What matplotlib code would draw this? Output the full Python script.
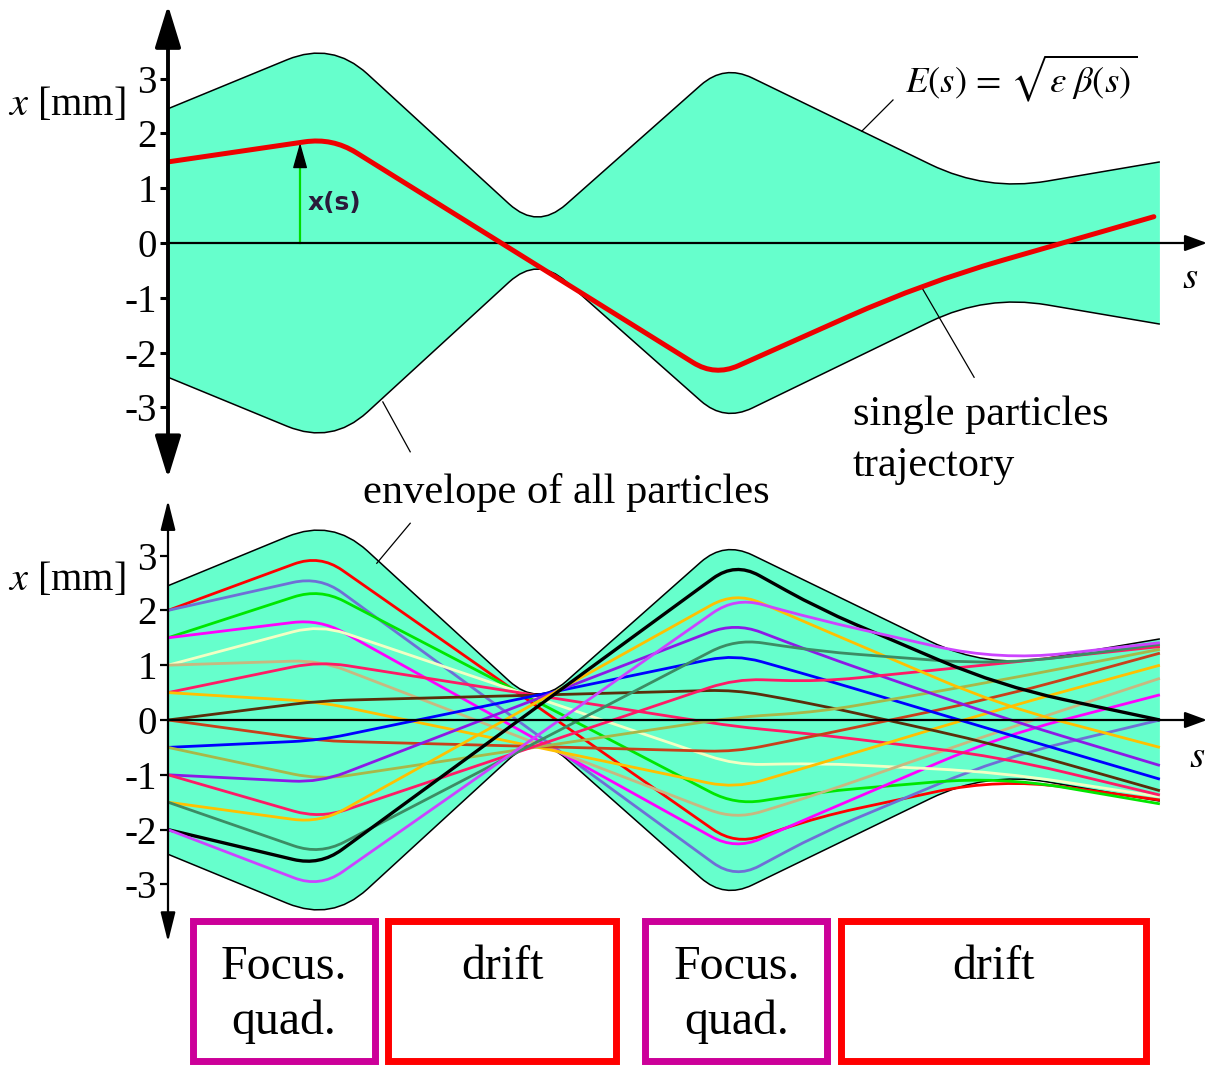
import numpy as np
import matplotlib
matplotlib.use("Agg")
import matplotlib.pyplot as plt
from matplotlib.path import Path
from matplotlib.patches import PathPatch, Rectangle

plt.rcParams['font.family'] = ['Liberation Serif', 'DejaVu Serif']
plt.rcParams['mathtext.fontset'] = 'stix'
plt.rcParams['axes.unicode_minus'] = False

# beam envelope E(s): corner points of the outline (s in arbitrary length units, x in mm)
env_s = [0, 2.99, 6.74, 10.15, 14.93, 18.10]
env_x = [2.45, 3.68, 0.24, 3.26, 0.94, 1.48]

# single particle trajectory (top panel)
traj_s = [0, 3.00, 9.98, 13.79, 17.99]
traj_x = [1.48, 1.92, -2.43, -0.73, 0.48]

# the x(s) arrow
kick_s = 2.41
kick_x = 1.83

# many particles (bottom panel), read at these s positions
part_s = [0, 2.77, 10.35, 11.90, 15.18, 18.10]
p_red = [2.0, 3.02, -2.28, -1.76, -1.06, -1.46]
p_slate = [2.0, 2.62, -2.90, -2.07, -0.70, 0.0]
p_green = [1.5, 2.40, -1.55, -1.31, -1.03, -1.53]
p_magenta = [1.5, 1.84, -2.37, -1.70, -0.30, 0.46]
p_pale = [1.0, 1.74, -0.82, -0.79, -0.95, -1.40]
p_tan = [1.0, 1.09, -1.82, -1.34, -0.20, 0.76]
p_crimson_a = [0.5, 1.07, -0.12, -0.27, -0.67, -1.37]
p_gold_a = [0.5, 0.33, -1.25, -0.79, 0.20, 1.00]
p_brown = [0.0, 0.35, 0.55, 0.27, -0.46, -1.29]
p_sienna = [0.0, -0.38, -0.58, -0.27, 0.42, 1.22]
p_blue = [-0.5, -0.37, 1.20, 0.76, -0.22, -1.08]
p_olive = [-0.5, -1.09, 0.05, 0.15, 0.72, 1.29]
p_purple = [-1.0, -1.14, 1.78, 1.19, 0.05, -0.83]
p_crimson_b = [-1.0, -1.80, 0.75, 0.70, 1.03, 1.34]
p_gold_b = [-1.5, -1.88, 2.34, 1.67, 0.27, -0.50]
p_seagreen = [-1.5, -2.46, 1.48, 1.25, 1.00, 1.38]
p_black = [-2.0, -2.66, 2.88, 2.02, 0.62, 0.0]
p_violet = [-2.0, -3.06, 2.24, 1.82, 1.08, 1.41]

particles = [p_red, p_slate, p_green, p_magenta, p_pale, p_tan, p_crimson_a,
             p_gold_a, p_brown, p_sienna, p_blue, p_olive, p_purple,
             p_crimson_b, p_gold_b, p_seagreen, p_black, p_violet]
part_colors = ['#ff0000', '#6f6fd6', '#00e600', '#ff00ff', '#f2ffc4', '#c8b880',
               '#ff1a66', '#ffc000', '#5a2e0a', '#c8401a', '#0000ff', '#a8b848',
               '#8c1ae6', '#ff1a66', '#ffc000', '#3c8c64', '#000000', '#cc44ff']

# lattice elements under the plot
elem_names = ['Focus.\nquad.', 'drift', 'Focus.\nquad.', 'drift']
elem_start = [0.45, 4.02, 8.71, 12.29]
elem_end = [3.77, 8.18, 12.03, 17.84]
elem_colors = ['#cc0099', '#ff0000', '#cc0099', '#ff0000']

W, H = 1207, 1065
PX = 54.8  # pixels per unit on both axes
X0 = 168


def rounded(s, x, radius):
    # polyline with its corners rounded by quadratic bezier pieces
    pts = np.column_stack([s, x]).astype(float)
    if np.isscalar(radius):
        radius = [radius] * len(pts)
    verts = [pts[0]]
    codes = [Path.MOVETO]
    for i in range(1, len(pts) - 1):
        a, p, b = pts[i - 1], pts[i], pts[i + 1]
        d1 = np.hypot(*(a - p))
        d2 = np.hypot(*(b - p))
        r = min(radius[i], 0.5 * d1, 0.5 * d2)
        verts += [p + r * (a - p) / d1, p, p + r * (b - p) / d2]
        codes += [Path.LINETO, Path.CURVE3, Path.CURVE3]
    verts.append(pts[-1])
    codes.append(Path.LINETO)
    return np.array(verts), codes


def draw_envelope(ax):
    env_r = [0, 0.88, 0.7, 0.57, 1.13, 0]
    uv, uc = rounded(env_s, env_x, env_r)
    lv, lc = rounded(env_s[::-1], [-v for v in env_x[::-1]], env_r[::-1])
    fill_v = np.vstack([uv, lv, uv[:1]])
    fill_c = uc + [Path.LINETO] + lc[1:] + [Path.CLOSEPOLY]
    ax.add_patch(PathPatch(Path(fill_v, fill_c), facecolor='#66ffcc', edgecolor='none', zorder=1))
    lv2, lc2 = rounded(env_s, [-v for v in env_x], env_r)
    for v, c in [(uv, uc), (lv2, lc2)]:
        ax.add_patch(PathPatch(Path(v, c), fill=False, edgecolor='black', lw=1.1, zorder=2))


def setup_axes(ax, y_top, lw_axis):
    ax.set_xlim(0, (W - X0) / PX)
    ax.set_ylim(y_top - ax.get_position().height * H / PX, y_top)
    ax.patch.set_visible(False)
    for sp in ax.spines.values():
        sp.set_visible(False)
    ax.set_xticks([])
    ax.set_yticks(range(-3, 4))
    ax.tick_params(axis='y', direction='out', length=6, width=lw_axis, labelsize=28, pad=2)
    # horizontal s axis
    ax.annotate('', xy=((W - X0) / PX, 0), xytext=(0, 0), annotation_clip=False,
                arrowprops=dict(arrowstyle='-|>,head_length=0.9,head_width=0.33', mutation_scale=15,
                                lw=1.6, color='black', shrinkA=0, shrinkB=0), zorder=6)
    return ax


fig = plt.figure(figsize=(W / 100, H / 100), dpi=100)

# ---------------- top panel ----------------
ax1 = fig.add_axes([X0 / W, 1 - 480 / H, (W - X0) / W, 480 / H])
setup_axes(ax1, 243 / PX, 2.2)
draw_envelope(ax1)
v, c = rounded(traj_s, traj_x, [0, 0.51, 0.47, 1.5, 0])
ax1.add_patch(PathPatch(Path(v, c), fill=False, edgecolor='#ee0000', lw=3.6, capstyle='round', zorder=7))
ax1.plot([kick_s, kick_s], [0, kick_x - 0.3], color='#00dd00', lw=1.6, zorder=5)
ax1.annotate('', xy=(kick_s, kick_x), xytext=(kick_s, kick_x - 0.45),
             arrowprops=dict(arrowstyle='-|>,head_length=1.6,head_width=0.45', mutation_scale=10,
                             lw=1, color='black', shrinkA=0, shrinkB=0), zorder=6)
ax1.text(kick_s + 0.13, 0.73, 'x(s)', fontsize=18, fontweight='bold', family='DejaVu Sans',
         color='#2a1a3a', va='center', ha='left', zorder=8)
ax1.annotate('', xy=(0, 4.34), xytext=(0, -4.29), annotation_clip=False,
             arrowprops=dict(arrowstyle='<|-|>,head_length=1.3,head_width=0.4', mutation_scale=20,
                             lw=2.8, color='black', shrinkA=0, shrinkB=0), zorder=9)
ax1.text(-2.92, 2.52, '$x$ [mm]', fontsize=29, va='center', ha='left')
ax1.text(18.65, -0.64, '$s$', fontsize=28, va='center', ha='center')
ax1.text(13.45, 3.01, r'$E(s)\,=\,\sqrt{\varepsilon\;\beta(s)}$', fontsize=26.5, va='center', ha='left')
ax1.plot([13.23, 12.66], [2.61, 2.04], color='black', lw=0.9, zorder=4)
ax1.text(12.5, -3.14, 'single particles', fontsize=30.5, va='center', ha='left')
ax1.text(12.5, -4.07, 'trajectory', fontsize=30.5, va='center', ha='left')
ax1.plot([14.71, 13.76], [-2.45, -0.82], color='black', lw=0.9, zorder=4)
ax1.plot([4.42, 3.92], [-3.81, -2.9], color='black', lw=0.9, zorder=4, clip_on=False)

# ---------------- bottom panel ----------------
ax2 = fig.add_axes([X0 / W, 0, (W - X0) / W, 585 / H])
setup_axes(ax2, 240 / PX, 1.6)
draw_envelope(ax2)
for vals, col in zip(particles, part_colors):
    lw = 2.4 if col == '#000000' else 2.0
    v, c = rounded(part_s, vals, [0, 0.5, 0.5, 0.7, 1.2, 0])
    ax2.add_patch(PathPatch(Path(v, c), fill=False, edgecolor=col, lw=lw, zorder=3))
ax2.annotate('', xy=(0, 4.01), xytext=(0, -4.05), annotation_clip=False,
             arrowprops=dict(arrowstyle='<|-|>,head_length=1.2,head_width=0.3', mutation_scale=15,
                             lw=1.6, color='black', shrinkA=0, shrinkB=0), zorder=9)
ax2.text(-2.92, 2.55, '$x$ [mm]', fontsize=29, va='center', ha='left')
ax2.text(18.78, -0.68, '$s$', fontsize=28, va='center', ha='center')
ax2.text(3.56, 4.16, 'envelope of all particles', fontsize=30.5, va='center', ha='left')
ax2.plot([3.81, 4.42], [2.86, 3.59], color='black', lw=0.9, zorder=4)

for name, a, b, col in zip(elem_names, elem_start, elem_end, elem_colors):
    ax2.add_patch(Rectangle((a, -6.214), b - a, 2.537, facecolor='white', edgecolor=col,
                            lw=5, clip_on=False, zorder=2))
    ax2.text((a + b) / 2, -4.1, name, fontsize=34.5, ha='center', va='top', linespacing=1.3)

fig.savefig('out.png', dpi=100)
